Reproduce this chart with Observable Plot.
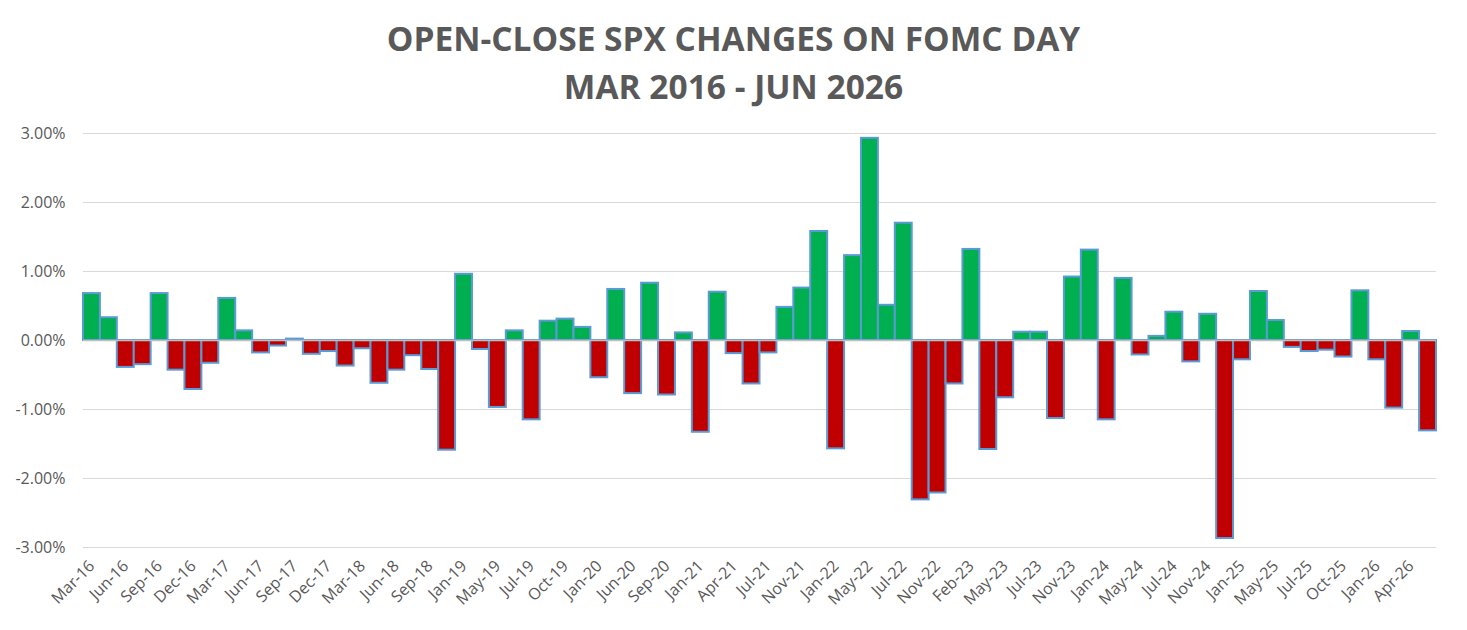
<!DOCTYPE html>
<html><head><meta charset="utf-8">
<script src="https://cdn.jsdelivr.net/npm/d3@7"></script>
<script src="https://cdn.jsdelivr.net/npm/@observablehq/plot@0.6"></script>
<style>
body{margin:0;background:#fff;overflow:hidden}
#title{height:111px;box-sizing:border-box;padding-top:14px;text-align:center;font-family:"Open Sans";font-weight:700;font-size:33.5px;line-height:48px;color:#595959}
</style></head><body>
<div id="title"><div>OPEN-CLOSE SPX CHANGES ON FOMC DAY</div><div>MAR 2016 - JUN 2026</div></div>
<div id="chart"></div>
<script>
const meetings = ["Mar-16","Apr-16","Jun-16","Jul-16","Sep-16","Nov-16","Dec-16","Feb-17","Mar-17","May-17",
"Jun-17","Jul-17","Sep-17","Nov-17","Dec-17","Jan-18","Mar-18","May-18","Jun-18","Aug-18",
"Sep-18","Dec-18","Jan-19","Mar-19","May-19","Jun-19","Jul-19","Sep-19","Oct-19","Dec-19",
"Jan-20","Apr-20","Jun-20","Jul-20","Sep-20","Dec-20","Jan-21","Mar-21","Apr-21","Jun-21",
"Jul-21","Sep-21","Nov-21","Dec-21","Jan-22","Mar-22","May-22","Jun-22","Jul-22","Sep-22",
"Nov-22","Dec-22","Feb-23","Mar-23","May-23","Jun-23","Jul-23","Sep-23","Nov-23","Dec-23",
"Jan-24","Mar-24","May-24","Jun-24","Jul-24","Sep-24","Nov-24","Dec-24","Jan-25","Mar-25",
"May-25","Jun-25","Jul-25","Sep-25","Oct-25","Dec-25","Jan-26","Mar-26","Apr-26","Jun-26"];
const changes = [0.68,0.33,-0.39,-0.35,0.68,-0.43,-0.71,-0.33,0.61,0.14,
-0.18,-0.08,0.02,-0.20,-0.16,-0.37,-0.12,-0.62,-0.43,-0.22,
-0.42,-1.59,0.96,-0.13,-0.97,0.14,-1.15,0.28,0.31,0.19,
-0.54,0.74,-0.77,0.83,-0.79,0.11,-1.33,0.70,-0.19,-0.63,
-0.18,0.48,0.76,1.58,-1.57,1.23,2.93,0.51,1.70,-2.31,
-2.21,-0.63,1.32,-1.58,-0.83,0.12,0.12,-1.13,0.92,1.31,
-1.15,0.90,-0.21,0.06,0.41,-0.31,0.38,-2.87,-0.28,0.71,
0.29,-0.10,-0.16,-0.14,-0.24,0.72,-0.28,-0.98,0.13,-1.31];
const yTicks = [-3,-2,-1,0,1,2,3];
const xTicks = meetings.filter((m,i)=>i%2===0);
const data = meetings.map((m,i)=>({meeting:m, change:changes[i]}));
const chart = Plot.plot({
  width:1467, height:519, marginTop:22, marginBottom:83, marginLeft:83, marginRight:31,
  style:{fontFamily:"Open Sans", fontSize:"16px", color:"#595959", background:"#fff"},
  x:{type:"band", domain:meetings, padding:0},
  y:{domain:[-3,3]},
  color:{type:"identity"},
  marks:[
    Plot.gridY(yTicks,{stroke:"#d9d9d9", strokeOpacity:1}),
    Plot.barY(data,{x:"meeting", y:"change", fill:d=>d.change>=0?"#00B050":"#C00000", stroke:"#5B9BD5", strokeWidth:2}),
    Plot.ruleY([0],{stroke:"#bfbfbf", strokeWidth:1.5}),
    Plot.axisY({ticks:yTicks, tickFormat:d=>d.toFixed(2)+"%", tickSize:0, tickPadding:18, fontSize:16, label:null}),
    Plot.axisX({ticks:xTicks, tickRotate:-45, tickSize:0, tickPadding:16, fontSize:16, label:null})
  ]
});
document.getElementById("chart").appendChild(chart);
</script></body></html>
